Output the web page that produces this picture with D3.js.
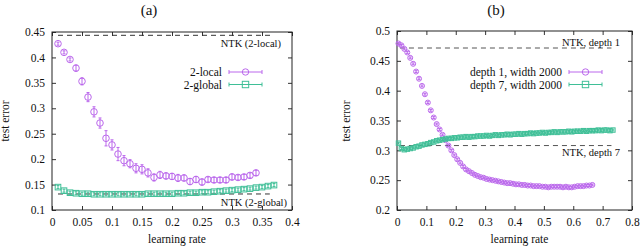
<!DOCTYPE html>
<html>
<head>
<meta charset="utf-8">
<script src="https://cdn.jsdelivr.net/npm/d3@7"></script>
<style>
body { margin: 0; background: #fff; }
svg { display: block; font-family: "Liberation Serif", "DejaVu Serif", serif; }
</style>
</head>
<body>
<div id="chart"></div>
<script>
// panel (a)
var lr_a_local = [0.01,0.02,0.03,0.04,0.05,0.06,0.07,0.08,0.09,0.10,
    0.11,0.12,0.13,0.14,0.15,0.16,0.17,0.18,0.19,0.20,
    0.21,0.22,0.23,0.24,0.25,0.26,0.27,0.28,0.29,0.30,
    0.31,0.32,0.33,0.34]
var err_local = [0.427,0.410,0.396,0.379,0.353,0.322,0.293,0.271,0.241,0.228,
    0.210,0.197,0.191,0.182,0.180,0.173,0.164,0.169,0.167,0.166,
    0.163,0.163,0.156,0.160,0.155,0.160,0.159,0.159,0.159,0.165,
    0.164,0.165,0.168,0.173]
var sd_local = [0.003,0.003,0.003,0.006,0.007,0.009,0.010,0.010,0.015,0.010,
    0.013,0.010,0.008,0.009,0.009,0.008,0.007,0.007,0.006,0.006,
    0.007,0.006,0.006,0.006,0.006,0.005,0.005,0.005,0.005,0.006,
    0.005,0.005,0.005,0.005]
var lr_a_global = [0.01,0.02,0.03,0.04,0.05,0.06,0.07,0.08,0.09,0.10,
    0.11,0.12,0.13,0.14,0.15,0.16,0.17,0.18,0.19,0.20,
    0.21,0.22,0.23,0.24,0.25,0.26,0.27,0.28,0.29,0.30,
    0.31,0.32,0.33,0.34,0.35,0.36,0.37]
var err_global = [0.145,0.138,0.134,0.133,0.132,0.132,0.131,0.131,0.131,0.131,
    0.131,0.131,0.131,0.131,0.131,0.132,0.132,0.132,0.132,0.132,
    0.133,0.133,0.134,0.134,0.135,0.135,0.136,0.137,0.138,0.139,
    0.140,0.141,0.142,0.144,0.145,0.147,0.149]
var sd_global = 0.003
var ntk_local = 0.4435
var ntk_global = 0.1315

// panel (b)
var lr_b_d1 = [0.005,0.015,0.025,0.035,0.045,0.055,0.065,0.075,0.085,0.095,
    0.105,0.115,0.125,0.135,0.145,0.155,0.165,0.175,0.185,0.195,
    0.205,0.215,0.225,0.235,0.245,0.255,0.265,0.275,0.285,0.295,
    0.305,0.315,0.325,0.335,0.345,0.355,0.365,0.375,0.385,0.395,
    0.405,0.415,0.425,0.435,0.445,0.455,0.465,0.475,0.485,0.495,
    0.505,0.515,0.525,0.535,0.545,0.555,0.565,0.575,0.585,0.595,
    0.605,0.615,0.625,0.635,0.645,0.655,0.665]
var err_d1 = [0.479,0.476,0.470,0.464,0.455,0.445,0.432,0.420,0.408,0.394,
    0.380,0.367,0.355,0.344,0.335,0.326,0.317,0.308,0.300,0.292,
    0.285,0.279,0.273,0.268,0.265,0.262,0.259,0.257,0.255,0.254,
    0.252,0.251,0.250,0.249,0.248,0.247,0.246,0.245,0.245,0.244,
    0.243,0.243,0.242,0.242,0.241,0.241,0.240,0.240,0.240,0.239,
    0.239,0.238,0.239,0.239,0.239,0.239,0.238,0.239,0.238,0.238,
    0.239,0.240,0.240,0.240,0.241,0.241,0.242]
var lr_b_d7 = [0.005,0.015,0.025,0.035,0.045,0.055,0.065,0.075,0.085,0.095,
    0.105,0.115,0.125,0.135,0.145,0.155,0.165,0.175,0.185,0.195,
    0.205,0.215,0.225,0.235,0.245,0.255,0.265,0.275,0.285,0.295,
    0.305,0.315,0.325,0.335,0.345,0.355,0.365,0.375,0.385,0.395,
    0.405,0.415,0.425,0.435,0.445,0.455,0.465,0.475,0.485,0.495,
    0.505,0.515,0.525,0.535,0.545,0.555,0.565,0.575,0.585,0.595,
    0.605,0.615,0.625,0.635,0.645,0.655,0.665,0.675,0.685,0.695,
    0.705,0.715,0.725,0.735]
var err_d7 = [0.312,0.303,0.301,0.302,0.303,0.304,0.306,0.307,0.309,0.310,
    0.311,0.313,0.314,0.316,0.317,0.318,0.319,0.320,0.320,0.321,
    0.321,0.322,0.322,0.323,0.322,0.323,0.323,0.324,0.324,0.324,
    0.325,0.324,0.325,0.326,0.325,0.326,0.326,0.327,0.326,0.327,
    0.327,0.328,0.327,0.328,0.328,0.329,0.328,0.329,0.329,0.330,
    0.329,0.330,0.330,0.331,0.330,0.331,0.331,0.331,0.332,0.331,
    0.332,0.332,0.332,0.333,0.332,0.333,0.333,0.333,0.334,0.333,
    0.334,0.334,0.333,0.334]
var sd_b = 0.0015
var ntk_d1 = 0.4715
var ntk_d7 = 0.308

var purple = '#bb68ec'
var green = '#3fbf97'

var svg = d3.select('#chart')
    .append('svg')
    .attr('width', 640)
    .attr('height', 246)

function zip(xs, ys) {
    return xs.map(function (x, i) { return { x: x, y: ys[i] } })
}

function marker(g, shape, cx, cy, r, color) {
    if (shape == 'circle') {
        g.append('circle').attr('cx', cx).attr('cy', cy).attr('r', r)
            .attr('fill', 'none').attr('stroke', color).attr('stroke-width', 1)
    } else {
        g.append('rect').attr('x', cx - r).attr('y', cy - r)
            .attr('width', 2 * r).attr('height', 2 * r)
            .attr('fill', 'none').attr('stroke', color).attr('stroke-width', 1)
    }
}

function panel(p) {
    var x = d3.scaleLinear().domain(p.xdom).range(p.xr)
    var y = d3.scaleLinear().domain(p.ydom).range(p.yr)
    var g = svg.append('g')

    // ticks, mirrored on all four sides
    g.append('g').attr('transform', 'translate(0,' + p.yr[0] + ')')
        .call(d3.axisBottom(x).tickValues(p.xticks).tickSize(-4).tickPadding(8).tickFormat(d3.format('')))
    g.append('g').attr('transform', 'translate(0,' + p.yr[1] + ')')
        .call(d3.axisTop(x).tickValues(p.xticks).tickSize(-4).tickFormat(''))
    g.append('g').attr('transform', 'translate(' + p.xr[0] + ',0)')
        .call(d3.axisLeft(y).tickValues(p.yticks).tickSize(-4).tickPadding(7).tickFormat(d3.format('')))
    g.append('g').attr('transform', 'translate(' + p.xr[1] + ',0)')
        .call(d3.axisRight(y).tickValues(p.yticks).tickSize(-4).tickFormat(''))
    g.selectAll('.domain').remove()
    g.selectAll('.tick line').attr('stroke', '#333')
    g.selectAll('.tick text').attr('font-size', 11.5).attr('fill', '#111')
        .attr('font-family', '"Liberation Serif", serif')

    g.append('rect')
        .attr('x', p.xr[0]).attr('y', p.yr[1])
        .attr('width', p.xr[1] - p.xr[0]).attr('height', p.yr[0] - p.yr[1])
        .attr('fill', 'none').attr('stroke', '#222').attr('stroke-width', 1)

    // NTK reference lines
    p.ntk.forEach(function (n) {
        g.append('line')
            .attr('x1', x(n.from)).attr('x2', x(n.to))
            .attr('y1', y(n.v)).attr('y2', y(n.v))
            .attr('stroke', n.color).attr('stroke-width', 1).attr('stroke-dasharray', '5,4')
        g.append('text').text(n.label)
            .attr('x', n.lx).attr('y', n.ly)
            .attr('text-anchor', 'end').attr('font-size', 10.5).attr('fill', '#111')
    })

    // series
    p.series.forEach(function (s) {
        var pts = zip(s.xs, s.ys)
        var sg = g.append('g')
        pts.forEach(function (d, i) {
            var e = Array.isArray(s.sd) ? s.sd[i] : s.sd
            var cx = x(d.x), y0 = y(d.y + e), y1 = y(d.y - e)
            sg.append('line').attr('x1', cx).attr('x2', cx).attr('y1', y0).attr('y2', y1)
                .attr('stroke', s.color).attr('stroke-width', 1)
            sg.append('line').attr('x1', cx - 1.5).attr('x2', cx + 1.5).attr('y1', y0).attr('y2', y0)
                .attr('stroke', s.color).attr('stroke-width', 1)
            sg.append('line').attr('x1', cx - 1.5).attr('x2', cx + 1.5).attr('y1', y1).attr('y2', y1)
                .attr('stroke', s.color).attr('stroke-width', 1)
            marker(sg, s.shape, cx, y(d.y), s.r, s.color)
        })
    })

    // legend
    p.series.forEach(function (s, i) {
        var ly = p.legend.y + i * 12.5
        g.append('text').text(s.name)
            .attr('x', p.legend.x).attr('y', ly + 4)
            .attr('text-anchor', 'end').attr('font-size', 11.5).attr('fill', '#111')
        var x0 = p.legend.x + 7, x1 = x0 + 33
        g.append('line').attr('x1', x0).attr('x2', x1).attr('y1', ly).attr('y2', ly)
            .attr('stroke', s.color).attr('stroke-width', 1)
        g.append('line').attr('x1', x0).attr('x2', x0).attr('y1', ly - 2).attr('y2', ly + 2)
            .attr('stroke', s.color).attr('stroke-width', 1)
        g.append('line').attr('x1', x1).attr('x2', x1).attr('y1', ly - 2).attr('y2', ly + 2)
            .attr('stroke', s.color).attr('stroke-width', 1)
        marker(g, s.shape, (x0 + x1) / 2, ly, 3.2, s.color)
    })

    // titles and axis labels
    g.append('text').text(p.title)
        .attr('x', p.titleX).attr('y', 15)
        .attr('text-anchor', 'middle').attr('font-size', 15).attr('fill', '#111')
    g.append('text').text('learning rate')
        .attr('x', (p.xr[0] + p.xr[1]) / 2 + 5).attr('y', 243)
        .attr('text-anchor', 'middle').attr('font-size', 11.5).attr('fill', '#111')
    g.append('text').text('test error')
        .attr('transform', 'translate(' + p.ylabX + ',' + 121 + ') rotate(-90)')
        .attr('text-anchor', 'middle').attr('font-size', 11.5).attr('fill', '#111')
}

panel({
    xdom: [0, 0.4], xr: [52, 292],
    ydom: [0.1, 0.45], yr: [210, 32],
    xticks: [0, 0.05, 0.1, 0.15, 0.2, 0.25, 0.3, 0.35, 0.4],
    yticks: [0.1, 0.15, 0.2, 0.25, 0.3, 0.35, 0.4, 0.45],
    title: '(a)', titleX: 149, ylabX: 9,
    ntk: [
        { v: ntk_local, from: 0.01, to: 0.367, color: '#333', label: 'NTK (2-local)', lx: 281, ly: 47 },
        { v: ntk_global, from: 0.01, to: 0.363, color: '#333', label: 'NTK (2-global)', lx: 287, ly: 206 }
    ],
    series: [
        { name: '2-local', xs: lr_a_local, ys: err_local, sd: sd_local, shape: 'circle', r: 3.3, color: purple },
        { name: '2-global', xs: lr_a_global, ys: err_global, sd: sd_global, shape: 'square', r: 2.8, color: green }
    ],
    legend: { x: 222, y: 72 }
})

panel({
    xdom: [0, 0.8], xr: [397, 632],
    ydom: [0.2, 0.5], yr: [210, 31],
    xticks: [0, 0.1, 0.2, 0.3, 0.4, 0.5, 0.6, 0.7, 0.8],
    yticks: [0.2, 0.25, 0.3, 0.35, 0.4, 0.45, 0.5],
    title: '(b)', titleX: 496, ylabX: 350,
    ntk: [
        { v: ntk_d1, from: 0.01, to: 0.73, color: '#555', label: 'NTK, depth 1', lx: 620, ly: 46 },
        { v: ntk_d7, from: 0.01, to: 0.73, color: '#555', label: 'NTK, depth 7', lx: 620, ly: 156 }
    ],
    series: [
        { name: 'depth 1, width 2000', xs: lr_b_d1, ys: err_d1, sd: sd_b, shape: 'circle', r: 2.5, color: purple },
        { name: 'depth 7, width 2000', xs: lr_b_d7, ys: err_d7, sd: sd_b, shape: 'square', r: 2.2, color: green }
    ],
    legend: { x: 562, y: 72 }
})
</script>
</body>
</html>
